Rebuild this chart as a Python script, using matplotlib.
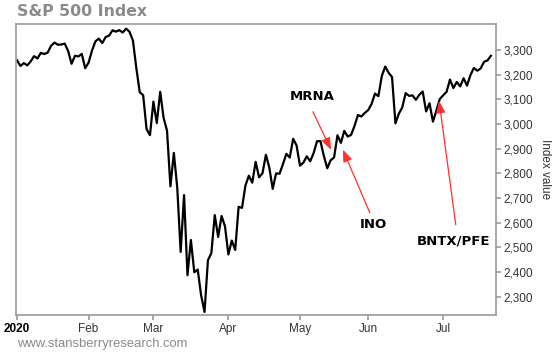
import numpy as np
import matplotlib
matplotlib.use("Agg")
import matplotlib.pyplot as plt

# S&P 500 daily closes, 2020-01-02 .. 2020-07-22
dates = [
    "2020-01-02", "2020-01-03", "2020-01-06", "2020-01-07", "2020-01-08", "2020-01-09", "2020-01-10",
    "2020-01-13", "2020-01-14", "2020-01-15", "2020-01-16", "2020-01-17", "2020-01-21", "2020-01-22",
    "2020-01-23", "2020-01-24", "2020-01-27", "2020-01-28", "2020-01-29", "2020-01-30", "2020-01-31",
    "2020-02-03", "2020-02-04", "2020-02-05", "2020-02-06", "2020-02-07", "2020-02-10", "2020-02-11",
    "2020-02-12", "2020-02-13", "2020-02-14", "2020-02-18", "2020-02-19", "2020-02-20", "2020-02-21",
    "2020-02-24", "2020-02-25", "2020-02-26", "2020-02-27", "2020-02-28",
    "2020-03-02", "2020-03-03", "2020-03-04", "2020-03-05", "2020-03-06", "2020-03-09", "2020-03-10",
    "2020-03-11", "2020-03-12", "2020-03-13", "2020-03-16", "2020-03-17", "2020-03-18", "2020-03-19",
    "2020-03-20", "2020-03-23", "2020-03-24", "2020-03-25", "2020-03-26", "2020-03-27", "2020-03-30",
    "2020-03-31",
    "2020-04-01", "2020-04-02", "2020-04-03", "2020-04-06", "2020-04-07", "2020-04-08", "2020-04-09",
    "2020-04-13", "2020-04-14", "2020-04-15", "2020-04-16", "2020-04-17", "2020-04-20", "2020-04-21",
    "2020-04-22", "2020-04-23", "2020-04-24", "2020-04-27", "2020-04-28", "2020-04-29", "2020-04-30",
    "2020-05-01", "2020-05-04", "2020-05-05", "2020-05-06", "2020-05-07", "2020-05-08", "2020-05-11",
    "2020-05-12", "2020-05-13", "2020-05-14", "2020-05-15", "2020-05-18", "2020-05-19", "2020-05-20",
    "2020-05-21", "2020-05-22", "2020-05-26", "2020-05-27", "2020-05-28", "2020-05-29",
    "2020-06-01", "2020-06-02", "2020-06-03", "2020-06-04", "2020-06-05", "2020-06-08", "2020-06-09",
    "2020-06-10", "2020-06-11", "2020-06-12", "2020-06-15", "2020-06-16", "2020-06-17", "2020-06-18",
    "2020-06-19", "2020-06-22", "2020-06-23", "2020-06-24", "2020-06-25", "2020-06-26", "2020-06-29",
    "2020-06-30",
    "2020-07-01", "2020-07-02", "2020-07-06", "2020-07-07", "2020-07-08", "2020-07-09", "2020-07-10",
    "2020-07-13", "2020-07-14", "2020-07-15", "2020-07-16", "2020-07-17", "2020-07-20", "2020-07-21",
    "2020-07-22",
]
closes = [
    3257.85, 3234.85, 3246.28, 3237.18, 3253.05, 3274.70, 3265.35,
    3288.13, 3283.15, 3289.29, 3316.81, 3329.62, 3320.79, 3321.75,
    3325.54, 3295.47, 3243.63, 3276.24, 3273.40, 3283.66, 3225.52,
    3248.92, 3297.59, 3334.69, 3345.78, 3327.71, 3352.09, 3357.75,
    3379.45, 3373.94, 3380.16, 3370.29, 3386.15, 3373.23, 3337.75,
    3225.89, 3128.21, 3116.39, 2978.76, 2954.22,
    3090.23, 3003.37, 3130.12, 3023.94, 2972.37, 2746.56, 2882.23,
    2741.38, 2480.64, 2711.02, 2386.13, 2529.19, 2398.10, 2409.39,
    2304.92, 2237.40, 2447.33, 2475.56, 2630.07, 2541.47, 2626.65,
    2584.59,
    2470.50, 2526.90, 2488.65, 2663.68, 2659.41, 2749.98, 2789.82,
    2761.63, 2846.06, 2783.36, 2799.55, 2874.56, 2823.16, 2736.56,
    2799.31, 2797.80, 2836.74, 2878.48, 2863.39, 2939.51, 2912.43,
    2830.71, 2842.74, 2868.44, 2848.42, 2881.19, 2929.80, 2930.32,
    2870.12, 2820.00, 2852.50, 2863.70, 2953.91, 2922.94, 2971.61,
    2948.51, 2955.45, 2991.77, 3036.13, 3029.73, 3044.31,
    3055.73, 3080.82, 3122.87, 3112.35, 3193.93, 3232.39, 3207.18,
    3190.14, 3002.10, 3041.31, 3066.59, 3124.74, 3113.49, 3115.34,
    3097.74, 3117.86, 3131.29, 3050.33, 3083.76, 3009.05, 3053.24,
    3100.29,
    3115.86, 3130.01, 3179.72, 3145.32, 3169.94, 3152.05, 3185.04,
    3155.22, 3197.52, 3226.56, 3215.57, 3224.73, 3251.84, 3257.30,
    3276.02,
]
month_labels = ["2020", "Feb", "Mar", "Apr", "May", "Jun", "Jul"]
y_ticks = [2300, 2400, 2500, 2600, 2700, 2800, 2900, 3000, 3100, 3200, 3300]

plt.rcParams["font.family"] = ["Liberation Sans", "DejaVu Sans"]

fig = plt.figure(figsize=(5.53, 3.52), dpi=100)
ax = fig.add_axes([16 / 553, 37 / 352, 480 / 553, 291 / 352])

x = np.arange(len(closes))
ax.plot(x, closes, color="black", lw=1.6, solid_joinstyle="round")

# month ticks at first trading day of each month
months = [d[:7] for d in dates]
tick_pos = [i for i in range(len(months)) if i == 0 or months[i] != months[i - 1]]
ax.set_xticks(tick_pos)
ax.set_xticklabels(month_labels)
ax.set_xlim(-0.3, 140.5)
ax.set_ylim(2225, 3405)

ax.yaxis.tick_right()
ax.yaxis.set_label_position("right")
ax.set_yticks(y_ticks)
ax.set_yticklabels([f"{v:,}" for v in y_ticks])
ax.set_ylabel("Index value", rotation=270, labelpad=13, fontsize=8.5, color="#333333")

for s in ax.spines.values():
    s.set_color("#999999")
    s.set_linewidth(1.2)
ax.tick_params(axis="both", colors="#999999", labelcolor="#333333", labelsize=8.5,
               length=3.5, width=1.2, pad=2)
ax.get_xticklabels()[0].set_fontweight("bold")
ax.get_xticklabels()[0].set_color("black")

# annotations
bold = dict(family="DejaVu Sans", fontweight="bold", fontsize=9.5, ha="center", va="center")
arrow = dict(arrowstyle="-|>,head_length=0.9,head_width=0.35", color="#ff3030", lw=0.9,
             mutation_scale=8, shrinkA=0, shrinkB=0)
ax.text(86.5, 3109, "MRNA", **bold)
ax.annotate("", xy=(92.1, 2895), xytext=(86.8, 3049), arrowprops=arrow)
ax.text(104.4, 2591, "INO", **bold)
ax.annotate("", xy=(95.6, 2895), xytext=(103.5, 2639), arrowprops=arrow)
ax.text(127.9, 2526, "BNTX/PFE", **bold)
ax.annotate("", xy=(123.8, 3093), xytext=(128.7, 2591), arrowprops=arrow)

fig.text(17 / 553, 1 - 12 / 352, "S&P 500 Index", family="DejaVu Sans", fontweight="bold",
         fontsize=11.3, color="#8a8a8a", va="center", ha="left")
fig.text(17 / 553, 1 - 344 / 352, "www.stansberryresearch.com", fontsize=9.4,
         color="#8a8a8a", va="center", ha="left")

fig.savefig("out.png", dpi=100)
